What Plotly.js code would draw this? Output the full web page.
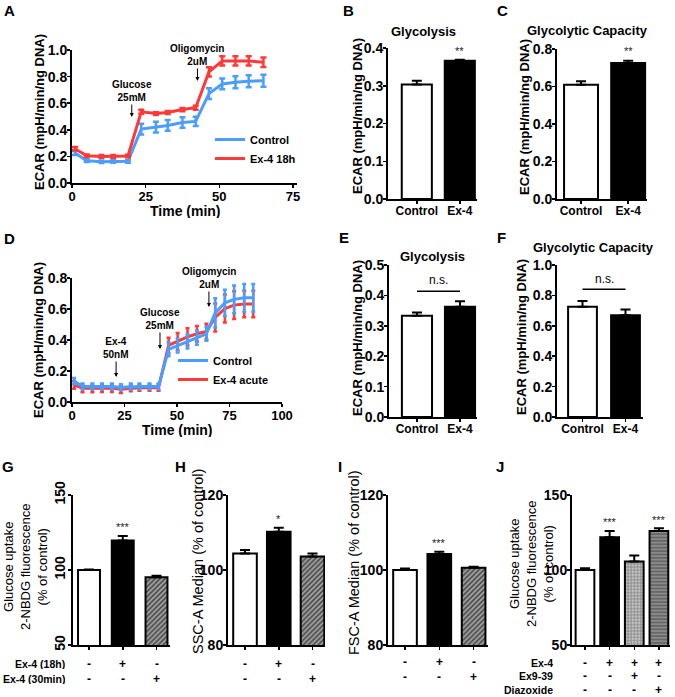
<!DOCTYPE html>
<html><head><meta charset="utf-8">
<script src="https://cdn.plot.ly/plotly-3.0.1.min.js"></script>
<style>html,body{margin:0;padding:0;background:#fff}#chart{width:675px;height:697px}</style>
</head><body><div id="chart"></div>
<script>
// ---------- Panel A: ECAR time course, Ex-4 18h ----------
const timeA = [1, 5, 10, 14, 19, 23.5, 28.5, 32.5, 37.5, 42, 46.5, 51, 55.5, 60, 65];
const ctrlA = [0.225, 0.168, 0.16, 0.163, 0.163, 0.405, 0.42, 0.433, 0.455, 0.463, 0.672, 0.745, 0.757, 0.765, 0.768];
const ctrlAErr = [0.015, 0.01, 0.01, 0.01, 0.01, 0.04, 0.04, 0.04, 0.04, 0.035, 0.04, 0.04, 0.045, 0.045, 0.045];
const ex4A = [0.258, 0.205, 0.2, 0.2, 0.203, 0.535, 0.522, 0.53, 0.552, 0.566, 0.835, 0.918, 0.918, 0.918, 0.908];
const ex4AErr = [0.012, 0.01, 0.01, 0.01, 0.01, 0.015, 0.01, 0.012, 0.012, 0.015, 0.035, 0.035, 0.035, 0.035, 0.035];

// ---------- Panel D: ECAR time course, Ex-4 acute ----------
const timeD = [1, 5, 9.7, 14.3, 19, 23.3, 28, 32.1, 36.9, 41.2, 46, 50.3, 55, 59.5, 64, 68.2, 72.8, 77.2, 82, 86.3];
const ctrlD = [0.135, 0.1, 0.1, 0.1, 0.1, 0.095, 0.1, 0.1, 0.1, 0.1, 0.34, 0.365, 0.39, 0.415, 0.44, 0.575, 0.64, 0.662, 0.672, 0.672];
const ctrlDErr = [0.02, 0.02, 0.02, 0.02, 0.02, 0.02, 0.02, 0.02, 0.02, 0.02, 0.045, 0.045, 0.045, 0.045, 0.045, 0.095, 0.085, 0.09, 0.09, 0.09];
const ex4D = [0.11, 0.088, 0.088, 0.09, 0.09, 0.083, 0.09, 0.092, 0.092, 0.092, 0.365, 0.39, 0.42, 0.44, 0.455, 0.545, 0.603, 0.625, 0.632, 0.632];
const ex4DErr = [0.025, 0.025, 0.025, 0.025, 0.025, 0.025, 0.02, 0.02, 0.02, 0.02, 0.05, 0.055, 0.055, 0.05, 0.05, 0.09, 0.09, 0.09, 0.085, 0.085];

// ---------- Bar panels B, C, E, F ----------
const catCE = ['Control', 'Ex-4'];
const glycB = [0.303, 0.366];     const glycBErr = [0.01, 0.003];
const capC = [0.61, 0.725];       const capCErr = [0.018, 0.012];
const glycE = [0.333, 0.363];     const glycEErr = [0.011, 0.018];
const capF = [0.725, 0.67];       const capFErr = [0.038, 0.038];

// ---------- Bar panels G, H, I, J ----------
const catGHI = ['Control', 'Ex-4 (18h)', 'Ex-4 (30min)'];
const uptakeG = [100, 119.6, 95.1];  const uptakeGErr = [0.4, 3.1, 1.1];
const sscH = [104.4, 110.2, 103.6];  const sscHErr = [0.9, 1.1, 0.8];
const fscI = [100, 104.3, 100.6];    const fscIErr = [0.4, 0.6, 0.3];
const catJ = ['Control', 'Ex-4', 'Ex-4 + Ex9-39', 'Ex-4 + Diazoxide'];
const uptakeJ = [100, 121.8, 105.6, 126];  const uptakeJErr = [1.1, 4.2, 4.0, 1.8];

// sign rows under G-J
const rowEx4_18h = ['-', '+', '-'];
const rowEx4_30min = ['-', '-', '+'];
const rowJEx4 = ['-', '+', '+', '+'];
const rowJEx939 = ['-', '-', '+', '-'];
const rowJDiaz = ['-', '-', '-', '+'];

// significance marks
const sigB = ['', '**'];
const sigC = ['', '**'];
const sigG = ['', '***', ''];
const sigH = ['', '*', ''];
const sigI = ['', '***', ''];
const sigJ = ['', '***', '', '***'];

// ---------- helpers ----------
const W = 675, H = 697;
const FONT = 'Liberation Sans, Arial, Helvetica, sans-serif';
const BLUE = '#4a9eff', RED = '#ff3838';
const px = x => x / W;
const py = y => 1 - y / H;
const dx = (a, b) => [a / W, b / W];
const dy = (top, bottom) => [1 - bottom / H, 1 - top / H];

function axis(o) {
  return Object.assign({
    showline: true, linewidth: 2, linecolor: '#000', mirror: false,
    ticks: 'outside', ticklen: 3, tickwidth: 1.5, tickcolor: '#000', ticklabelstandoff: -3,
    showgrid: false, zeroline: false, fixedrange: true,
    tickfont: {family: FONT, size: 14, color: '#000', weight: 'bold'}
  }, o);
}

function barTrace(xs, ys, errs, xa, ya, width, colors, pattern) {
  const t = {
    type: 'bar', x: xs, y: ys, xaxis: xa, yaxis: ya, width: width, showlegend: false,
    marker: {color: colors, line: {color: '#000', width: 2}},
    error_y: {type: 'data', symmetric: false, array: errs, arrayminus: errs.map(() => 0),
              color: '#000', thickness: 2, width: 5}
  };
  if (pattern) t.marker.pattern = pattern;
  return t;
}

const traces = [];
// A
traces.push({type: 'scatter', mode: 'lines', x: timeA, y: ctrlA, name: 'Control', xaxis: 'x', yaxis: 'y', legend: 'legend',
  line: {color: BLUE, width: 3}, error_y: {type: 'data', array: ctrlAErr, color: BLUE, thickness: 2.5, width: 3}});
traces.push({type: 'scatter', mode: 'lines', x: timeA, y: ex4A, name: 'Ex-4 18h', xaxis: 'x', yaxis: 'y', legend: 'legend',
  line: {color: RED, width: 3}, error_y: {type: 'data', array: ex4AErr, color: RED, thickness: 2.5, width: 3}});
// D (red below blue)
traces.push({type: 'scatter', mode: 'lines', x: timeD, y: ex4D, name: 'Ex-4 acute', xaxis: 'x4', yaxis: 'y4', legend: 'legend2',
  line: {color: RED, width: 3}, error_y: {type: 'data', array: ex4DErr, color: RED, thickness: 2.5, width: 2}});
traces.push({type: 'scatter', mode: 'lines', x: timeD, y: ctrlD, name: 'Control', xaxis: 'x4', yaxis: 'y4', legend: 'legend2',
  line: {color: BLUE, width: 3}, error_y: {type: 'data', array: ctrlDErr, color: BLUE, thickness: 2.5, width: 2}});
// B C E F
traces.push(barTrace(catCE, glycB, glycBErr, 'x2', 'y2', 0.7, ['#fff', '#000']));
traces.push(barTrace(catCE, capC, capCErr, 'x3', 'y3', 0.72, ['#fff', '#000']));
traces.push(barTrace(catCE, glycE, glycEErr, 'x5', 'y5', 0.7, ['#fff', '#000']));
traces.push(barTrace(catCE, capF, capFErr, 'x6', 'y6', 0.67, ['#fff', '#000']));
// G H I : third bar hatched dark grey
const diagPattern = {shape: ['', '', '/'], fgcolor: '#0d0d0d', size: 3.5, solidity: 0.5, fillmode: 'overlay'};
traces.push(barTrace(catGHI, uptakeG, uptakeGErr, 'x7', 'y7', 0.65, ['#fff', '#000', '#4a4a4a'], diagPattern));
traces.push(barTrace(catGHI, sscH, sscHErr, 'x8', 'y8', 0.7, ['#fff', '#000', '#4a4a4a'], diagPattern));
traces.push(barTrace(catGHI, fscI, fscIErr, 'x9', 'y9', 0.69, ['#fff', '#000', '#4a4a4a'], diagPattern));
// J
traces.push(barTrace(catJ, uptakeJ, uptakeJErr, 'x10', 'y10', 0.76, ['#fff', '#000', '#c4c4c4', '#8a8a8a'],
  {shape: ['', '', '+', '-'], fgcolor: '#1a1a1a', size: [4, 4, 3.2, 3.4], solidity: [0.3, 0.3, 0.45, 0.5], fillmode: 'overlay'}));

const catTick = {family: FONT, size: 12, color: '#000', weight: 'bold'};
const timeTick = {family: FONT, size: 13, color: '#000', weight: 'bold'};
const layout = {
  width: W, height: H, margin: {l: 0, r: 0, t: 0, b: 0},
  paper_bgcolor: '#fff', plot_bgcolor: 'rgba(0,0,0,0)', hovermode: false, bargap: 0,
  xaxis:  axis({domain: dx(72, 297), range: [0, 76.4], tickvals: [0, 25, 50, 75], anchor: 'y', tickfont: timeTick}),
  yaxis:  axis({domain: dy(50, 183), range: [0, 1.0], tickvals: [0, 0.2, 0.4, 0.6, 0.8, 1.0], tickformat: '.1f', anchor: 'x'}),
  xaxis2: axis({domain: dx(388, 477), range: [-0.67, 1.4], type: 'category', anchor: 'y2', tickfont: catTick}),
  yaxis2: axis({domain: dy(48, 199), range: [0, 0.4], tickvals: [0, 0.1, 0.2, 0.3, 0.4], tickformat: '.1f', anchor: 'x2'}),
  xaxis3: axis({domain: dx(557, 647), range: [-0.51, 1.4], type: 'category', anchor: 'y3', tickfont: catTick}),
  yaxis3: axis({domain: dy(49, 199), range: [0, 0.8], tickvals: [0, 0.2, 0.4, 0.6, 0.8], tickformat: '.1f', anchor: 'x3'}),
  xaxis4: axis({domain: dx(72, 282), range: [0, 100], tickvals: [0, 25, 50, 75, 100], anchor: 'y4', tickfont: timeTick}),
  yaxis4: axis({domain: dy(278, 402), range: [0, 0.8], tickvals: [0, 0.2, 0.4, 0.6, 0.8], tickformat: '.1f', anchor: 'x4'}),
  xaxis5: axis({domain: dx(389, 477), range: [-0.65, 1.395], type: 'category', anchor: 'y5', tickfont: catTick}),
  yaxis5: axis({domain: dy(265, 417), range: [0, 0.5], tickvals: [0, 0.1, 0.2, 0.3, 0.4, 0.5], tickformat: '.1f', anchor: 'x5'}),
  xaxis6: axis({domain: dx(557, 643), range: [-0.593, 1.407], type: 'category', anchor: 'y6', tickfont: catTick}),
  yaxis6: axis({domain: dy(265, 417), range: [0, 1.0], tickvals: [0, 0.2, 0.4, 0.6, 0.8, 1.0], tickformat: '.1f', anchor: 'x6'}),
  xaxis7: axis({domain: dx(73, 170), range: [-0.474, 2.4], type: 'category', anchor: 'y7', showticklabels: false}),
  yaxis7: axis({domain: dy(495, 645), range: [50, 150], tickvals: [50, 100, 150], tickangle: -90, anchor: 'x7'}),
  xaxis8: axis({domain: dx(228, 325), range: [-0.504, 2.37], type: 'category', anchor: 'y8', showticklabels: false}),
  yaxis8: axis({domain: dy(495, 645), range: [80, 120], tickvals: [80, 100, 120], anchor: 'x8'}),
  xaxis9: axis({domain: dx(388, 488), range: [-0.496, 2.42], type: 'category', anchor: 'y9', showticklabels: false}),
  yaxis9: axis({domain: dy(495, 645), range: [80, 120], tickvals: [80, 100, 120], anchor: 'x9'}),
  xaxis10: axis({domain: dx(572, 670), range: [-0.527, 3.45], type: 'category', anchor: 'y10', showticklabels: false}),
  yaxis10: axis({domain: dy(495, 645), range: [50, 150], tickvals: [50, 100, 150], anchor: 'x10'}),
  legend: {x: px(210), y: py(125), xanchor: 'left', yanchor: 'top', bgcolor: 'rgba(0,0,0,0)', itemwidth: 30,
           font: {family: FONT, size: 11, color: '#000', weight: 'bold'}, tracegroupgap: 0},
  legend2: {x: px(173), y: py(346), xanchor: 'left', yanchor: 'top', bgcolor: 'rgba(0,0,0,0)', itemwidth: 30, traceorder: 'reversed',
           font: {family: FONT, size: 11, color: '#000', weight: 'bold'}, tracegroupgap: 0},
  shapes: [
    {type: 'line', xref: 'x5', yref: 'y5', x0: 0, x1: 1, y0: 0.414, y1: 0.414, line: {color: '#000', width: 1.5}},
    {type: 'line', xref: 'x6', yref: 'y6', x0: 0, x1: 1, y0: 0.84, y1: 0.84, line: {color: '#000', width: 1.5}}
  ],
  annotations: []
};

const ann = layout.annotations;
function txt(text, x, y, o) {
  ann.push(Object.assign({text: text, x: px(x), y: py(y), xref: 'paper', yref: 'paper', showarrow: false,
    xanchor: 'center', yanchor: 'middle', font: {family: FONT, size: 13, color: '#000', weight: 'bold'}}, o || {}));
}
// panel letters
[['A', 9, 10], ['B', 348, 10], ['C', 502, 10], ['D', 9, 238], ['E', 344, 237], ['F', 501, 237],
 ['G', 8, 466], ['H', 180, 466], ['I', 340, 466], ['J', 500, 466]].forEach(l =>
  txt(l[0], l[1], l[2], {font: {family: FONT, size: 15, color: '#000', weight: 'bold'}}));
// titles
txt('Glycolysis', 423, 32);
txt('Glycolytic Capacity', 587, 30);
txt('Glycolysis', 432, 256);
txt('Glycolytic Capacity', 593, 247);
// axis titles
const ecar = 'ECAR (mpH/min/ng DNA)';
[[40, 112], [358, 116], [525, 117], [38, 340], [358, 338], [521, 337]].forEach(p => txt(ecar, p[0], p[1], {textangle: -90}));
txt('Time (min)', 185, 210, {height: 15, font: {family: FONT, size: 14, color: '#000', weight: 'bold'}});
txt('Time (min)', 177, 429, {height: 15, font: {family: FONT, size: 14, color: '#000', weight: 'bold'}});
const regTitle = {family: FONT, size: 13, color: '#000'};
txt('Glucose uptake<br>2-NBDG fluorescence<br>(% of control)', 25, 567, {textangle: -90, font: regTitle});
txt('SSC-A Median (% of control)', 198, 562, {textangle: -90, font: {family: FONT, size: 14.5, color: '#000'}});
txt('FSC-A Median (% of control)', 354, 563, {textangle: -90, font: {family: FONT, size: 14.5, color: '#000'}});
txt('Glucose uptake<br>2-NBDG fluorescence<br>(% of control)', 531, 564, {textangle: -90, font: regTitle});

// injection arrows
function arrow(text, xa, ya, x, y, ayPx) {
  ann.push({text: text, xref: xa, yref: ya, x: x, y: y, ax: 0, ay: ayPx, showarrow: true,
    arrowhead: 2, arrowsize: 0.8, arrowwidth: 1, arrowcolor: '#000', standoff: 0,
    font: {family: FONT, size: 10, color: '#000', weight: 'bold'}});
}
arrow('Glucose<br>25mM', 'x', 'y', 20.3, 0.496, -26);
arrow('Oligomycin<br>2uM', 'x', 'y', 42.6, 0.767, -26);
arrow('Ex-4<br>50nM', 'x4', 'y4', 21, 0.161, -29);
arrow('Glucose<br>25mM', 'x4', 'y4', 41.9, 0.342, -30);
arrow('Oligomycin<br>2uM', 'x4', 'y4', 65.2, 0.613, -29);

// significance marks placed above bars via the axes
function sig(marks, vals, errs, xa, ya, pad) {
  marks.forEach((m, i) => {
    if (!m) return;
    ann.push({text: m, xref: xa, yref: ya, x: i, y: vals[i] + errs[i] + pad, showarrow: false,
      xanchor: 'center', yanchor: 'bottom', font: {family: FONT, size: 11, color: '#222'}});
  });
}
sig(sigB, glycB, glycBErr, 'x2', 'y2', 0.003);
sig(sigC, capC, capCErr, 'x3', 'y3', 0.01);
sig(sigG, uptakeG, uptakeGErr, 'x7', 'y7', 0.5);
sig(sigH, sscH, sscHErr, 'x8', 'y8', 0.3);
sig(sigI, fscI, fscIErr, 'x9', 'y9', 0.3);
sig(sigJ, uptakeJ, uptakeJErr, 'x10', 'y10', 0.5);
// n.s.
ann.push({text: 'n.s.', xref: 'x5', yref: 'y5', x: 0.5, y: 0.45, showarrow: false, font: {family: FONT, size: 12, color: '#000'}});
ann.push({text: 'n.s.', xref: 'x6', yref: 'y6', x: 0.5, y: 0.905, showarrow: false, font: {family: FONT, size: 12, color: '#000'}});

// sign rows
function row(signs, xa, yPx) {
  signs.forEach((s, i) => ann.push({text: s, xref: xa, yref: 'paper', x: i, y: py(yPx), showarrow: false, height: 11,
    xanchor: 'center', yanchor: 'middle', font: {family: FONT, size: 12, color: '#000', weight: 'bold'}}));
}
row(rowEx4_18h, 'x7', 663); row(rowEx4_30min, 'x7', 678);
row(rowEx4_18h, 'x8', 663); row(rowEx4_30min, 'x8', 678);
row(rowEx4_18h, 'x9', 661); row(rowEx4_30min, 'x9', 676);
row(rowJEx4, 'x10', 662); row(rowJEx939, 'x10', 675.5); row(rowJDiaz, 'x10', 689);
const rowFont = {family: FONT, size: 10.5, color: '#000', weight: 'bold'};
txt('Ex-4 (18h)', 67, 663, {xanchor: 'right', font: rowFont, height: 11});
txt('Ex-4 (30min)', 67, 678, {xanchor: 'right', font: rowFont, height: 11});
txt('Ex-4', 555, 662, {xanchor: 'right', font: rowFont, height: 11});
txt('Ex9-39', 555, 675.5, {xanchor: 'right', font: rowFont, height: 11});
txt('Diazoxide', 555, 689, {xanchor: 'right', font: rowFont, height: 11});

Plotly.newPlot('chart', traces, layout, {staticPlot: true, displayModeBar: false});
</script></body></html>
